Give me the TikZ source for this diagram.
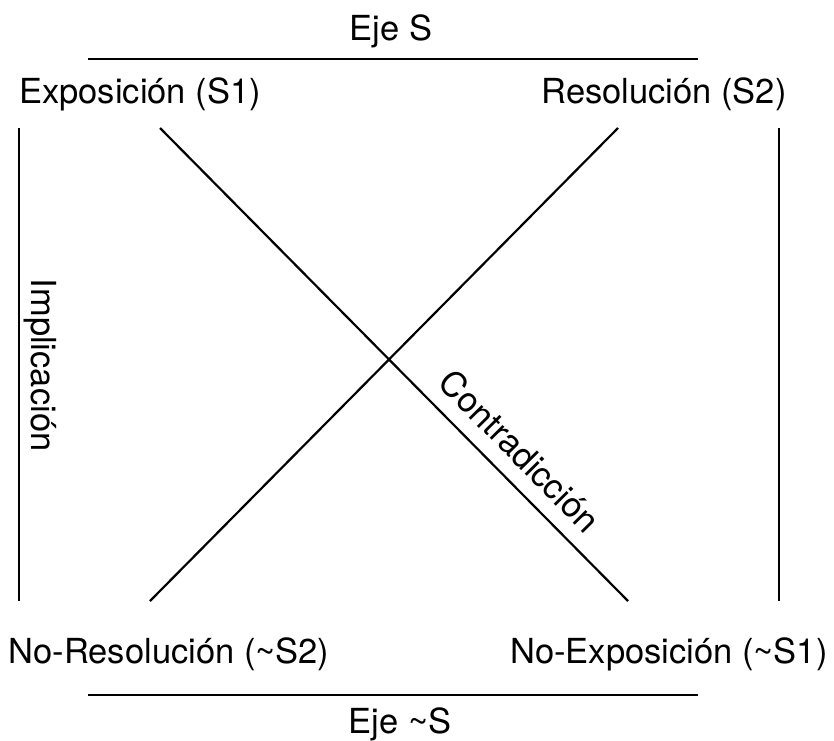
\documentclass[tikz,border=0pt]{standalone}
\usepackage{fontspec}
\setmainfont{TeX Gyre Heros}
\begin{document}
\begin{tikzpicture}[x=1pt,y=-1pt,
  lbl/.style={inner sep=0pt, font=\fontsize{34.5}{40}\selectfont},
  bl/.style={lbl, anchor=base},
  ln/.style={line width=2.2pt, black}]
\useasboundingbox (0,0) rectangle (834,740);
% labels
\node[bl] (ejes) at (391,40) {Eje S};
\node[bl] (s1) at (140,103) {Exposición (S1)};
\node[bl] (s2) at (664,103) {Resolución (S2)};
\node[bl] (ns2) at (169,663) {No-Resolución (\textasciitilde S2)};
\node[bl] (ns1) at (669,663) {No-Exposición (\textasciitilde S1)};
\node[bl] (ejens) at (400,733) {Eje \textasciitilde S};
\node[lbl, rotate=-90] (impl) at (40,365) {Implicación};
\node[lbl, rotate=-45.3] (contra) at (520,451) {Contradicción};
% line ends
\coordinate (ta) at (88,59);
\coordinate (tb) at (698,59);
\coordinate (ba) at (88,695);
\coordinate (bb) at (698,695);
\coordinate (la) at (19,128);
\coordinate (lb) at (19,601);
\coordinate (ra) at (779,128);
\coordinate (rb) at (779,601);
\coordinate (d1a) at (160,128);
\coordinate (d1b) at (628,601);
\coordinate (d2a) at (618,128);
\coordinate (d2b) at (150,601);
% lines
\draw[ln] (ta) -- (tb);
\draw[ln] (ba) -- (bb);
\draw[ln] (la) -- (lb);
\draw[ln] (ra) -- (rb);
\draw[ln] (d1a) -- (d1b);
\draw[ln] (d2a) -- (d2b);
\end{tikzpicture}
\end{document}
